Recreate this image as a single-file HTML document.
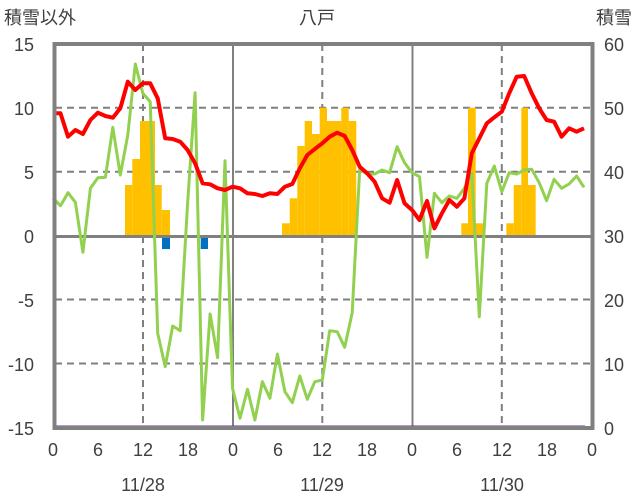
<!DOCTYPE html>
<html><head><meta charset="utf-8"><style>
body{margin:0;background:#fff;}
svg{display:block;}
text{font-family:"Liberation Sans","Noto Sans CJK JP",sans-serif;fill:#404040;font-size:18px;}
</style></head><body>
<svg width="636" height="501" viewBox="0 0 636 501" xmlns="http://www.w3.org/2000/svg">
<!-- grid -->
<g stroke="#7f7f7f" stroke-width="2" stroke-dasharray="7,5">
<line x1="55" y1="107.7" x2="592" y2="107.7"/>
<line x1="55" y1="171.7" x2="592" y2="171.7"/>
<line x1="55" y1="299.5" x2="592" y2="299.5"/>
<line x1="55" y1="363.5" x2="592" y2="363.5"/>
<line x1="143" y1="44" x2="143" y2="428"/>
<line x1="322.3" y1="44" x2="322.3" y2="428"/>
<line x1="501.8" y1="44" x2="501.8" y2="428"/>
</g>
<g stroke="#808080" stroke-width="2">
<line x1="233" y1="44" x2="233" y2="428"/>
<line x1="412.5" y1="44" x2="412.5" y2="428"/>
</g>
<!-- bars -->
<g fill="#ffc000">
<rect x="125" y="185" width="7.3" height="51"/>
<rect x="132.3" y="159" width="7.7" height="77"/>
<rect x="140" y="121" width="15" height="115"/>
<rect x="155" y="185" width="6.7" height="51"/>
<rect x="161.7" y="210" width="8.3" height="26"/>
<rect x="282" y="223.3" width="7.7" height="12.7"/>
<rect x="289.7" y="198.3" width="7.6" height="37.7"/>
<rect x="297.3" y="146" width="7.4" height="90"/>
<rect x="304.7" y="121" width="7.3" height="115"/>
<rect x="312" y="134" width="7.7" height="102"/>
<rect x="319.7" y="107.7" width="7.3" height="128.3"/>
<rect x="327" y="121" width="14.3" height="115"/>
<rect x="341.3" y="107.7" width="7.4" height="128.3"/>
<rect x="348.7" y="121" width="7.6" height="115"/>
<rect x="461.3" y="223.3" width="6.7" height="12.7"/>
<rect x="468" y="107.7" width="7.7" height="128.3"/>
<rect x="475.7" y="223.3" width="7.3" height="12.7"/>
<rect x="506.3" y="223.3" width="7.4" height="12.7"/>
<rect x="513.7" y="185" width="7.6" height="51"/>
<rect x="521.3" y="107.7" width="6.7" height="128.3"/>
<rect x="528" y="185" width="7.7" height="51"/>
</g>
<g fill="#0070c0">
<rect x="162" y="238" width="8" height="11"/>
<rect x="200.7" y="238" width="7.3" height="11"/>
</g>
<!-- zero line -->
<line x1="55" y1="236.5" x2="592" y2="236.5" stroke="#808080" stroke-width="3"/>
<!-- green -->
<polyline fill="none" stroke="#92d050" stroke-width="3" stroke-linejoin="round" points="53,198.3 60.5,205.7 68,192.7 75.4,202.3 82.9,252.3 90.4,188.3 97.9,177.7 105.4,177.3 112.8,127.3 120.3,175 127.8,135 135.3,64 142.8,93.3 150.2,101.7 157.7,333.3 165.2,366.7 172.7,326 180.2,330.7 187.6,203.3 195.1,92.7 202.6,420 210.1,314 217.6,357.7 225,160.7 232.5,388.3 240,418.3 247.5,389.3 254.9,420 262.4,381.7 269.9,398.3 277.4,354 284.9,391.7 292.3,402.7 299.8,376 307.3,399.3 314.8,381.7 322.3,380 329.7,330.7 337.2,331.7 344.7,347.3 352.2,312.7 359.7,169.3 367.1,174 374.6,174 382.1,170 389.6,172.7 397.1,146.7 404.5,162.7 412,172.7 419.5,176.7 427,257.3 434.4,193.3 441.9,202.7 449.4,196 456.9,198.3 464.4,188.3 471.8,173.3 479.3,316.7 486.8,183.3 494.3,166 501.8,191.7 509.2,172.7 516.7,174 524.2,170 531.7,169.3 539.2,182.7 546.6,200.7 554.1,179.3 561.6,188.3 569.1,184 576.6,176 584,187.3"/>
<!-- red -->
<polyline fill="none" stroke="#ff0000" stroke-width="4" stroke-linejoin="round" points="53,113.3 60.5,113.3 68,136.7 75.4,130 82.9,134 90.4,120 97.9,112.7 105.4,116 112.8,117.7 120.3,108.3 127.8,81.7 135.3,90 142.8,83.3 150.2,83.3 157.7,98.3 165.2,138.3 172.7,139 180.2,141.7 187.6,150 195.1,163.3 202.6,183.3 210.1,184.3 217.6,188.3 225,190 232.5,186.7 240,188.3 247.5,193.3 254.9,194 262.4,196 269.9,193.3 277.4,194 284.9,186.7 292.3,184 299.8,168.3 307.3,155 314.8,149 322.3,143.3 329.7,136.7 337.2,132.7 344.7,136 352.2,150 359.7,166.7 367.1,173.3 374.6,181.7 382.1,198.3 389.6,202.7 397.1,180 404.5,203.3 412,210 419.5,220 427,201 434.4,228.3 441.9,213.3 449.4,200 456.9,206.7 464.4,198.3 471.8,153.3 479.3,138.3 486.8,123.3 494.3,117.3 501.8,111.7 509.2,93.3 516.7,76.7 524.2,76 531.7,93.3 539.2,108.3 546.6,120 554.1,121.7 561.6,136.7 569.1,128.3 576.6,131.7 584,128.3"/>
<!-- purple -->
<line x1="55" y1="427" x2="585" y2="427" stroke="#7030a0" stroke-width="3"/>
<!-- frame -->
<rect x="54.5" y="44" width="538" height="384" fill="none" stroke="#808080" stroke-width="4"/>
<!-- left labels -->
<g text-anchor="end">
<text x="34" y="51">15</text>
<text x="34" y="115">10</text>
<text x="34" y="179">5</text>
<text x="34" y="243">0</text>
<text x="34" y="307">-5</text>
<text x="34" y="371">-10</text>
<text x="34" y="435">-15</text>
</g>
<g text-anchor="start">
<text x="604" y="51">60</text>
<text x="604" y="115">50</text>
<text x="604" y="179">40</text>
<text x="604" y="243">30</text>
<text x="604" y="307">20</text>
<text x="604" y="371">10</text>
<text x="604" y="435">0</text>
</g>
<g text-anchor="middle">
<text x="53" y="456">0</text><text x="98" y="456">6</text><text x="143" y="456">12</text><text x="188" y="456">18</text>
<text x="233" y="456">0</text><text x="278" y="456">6</text><text x="322" y="456">12</text><text x="367" y="456">18</text>
<text x="412" y="456">0</text><text x="457" y="456">6</text><text x="502" y="456">12</text><text x="547" y="456">18</text>
<text x="592" y="456">0</text>
<text x="143" y="491">11/28</text><text x="322" y="491">11/29</text><text x="502" y="491">11/30</text>
<text x="317" y="24">八戸</text>
</g>
<text x="4" y="24">積雪以外</text>
<text x="632" y="24" text-anchor="end">積雪</text>
</svg>
</body></html>
